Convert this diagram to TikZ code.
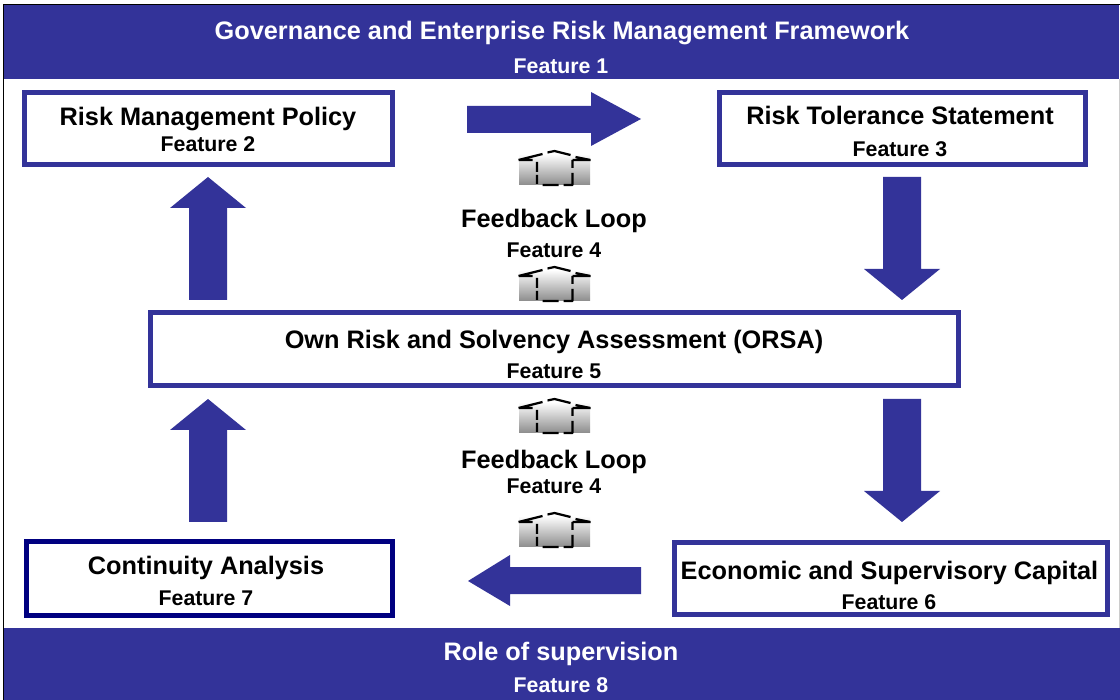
\documentclass[tikz,border=0pt]{standalone}
\usepackage{fontspec}
\setmainfont{Liberation Sans}
\definecolor{navy}{RGB}{51,51,153}
\definecolor{dnavy}{RGB}{0,0,128}
\tikzset{
  px/.style={x=1pt,y=-1pt},
  band/.style={fill=navy,draw=none},
  framebox/.style={draw=navy,line width=5pt,fill=white},
  darkbox/.style={draw=dnavy,line width=5pt,fill=white},
  blockarrow/.style={fill=navy,draw=none},
  title/.style={font=\bfseries\fontsize{25.3}{25.3}\selectfont,inner sep=0pt,anchor=center,text=black},
  sub/.style={font=\bfseries\fontsize{21.3}{21.3}\selectfont,inner sep=0pt,anchor=center,text=black},
  bandtitle/.style={title,text=white},
  bandsub/.style={sub,text=white},
  dashline/.style={draw=black,line width=2.2pt,line join=round},
}
\newcommand{\upicon}[2]{%
  \begin{scope}[shift={(#1,#2)}]
  \fill[top color=white,bottom color=black!45] (-35.5,-6) rectangle (35.5,25);
  \draw[dashline] (-36,0) -- (-12,-6) (-36,0) -- (-22,0)
    (-7,-7.5) -- (0,-9) -- (16,-5)
    (21,-3) -- (36,0) (18,0) -- (36,0)
    (-17.5,2) -- (-17.5,12) (-17.5,15) -- (-17.5,24)
    (-12,25) -- (4,25) (9,25) -- (18,25) -- (18,13) (18,8) -- (18,0);
  \end{scope}
}
\newcommand{\arrowup}[3]{% cx, tip y, base y
  \fill[blockarrow] (#1,#2) -- (#1+38,#2+31) -- (#1+19,#2+31) -- (#1+19,#3) -- (#1-19,#3) -- (#1-19,#2+31) -- (#1-38,#2+31) -- cycle;
}
\newcommand{\arrowdown}[3]{% cx, base y, tip y
  \fill[blockarrow] (#1,#3) -- (#1+38,#3-31) -- (#1+19,#3-31) -- (#1+19,#2) -- (#1-19,#2) -- (#1-19,#3-31) -- (#1-38,#3-31) -- cycle;
}
\begin{document}
\begin{tikzpicture}[px]
\useasboundingbox (0,0) rectangle (1120,700);
\fill[white] (0,0) rectangle (1120,700);
\fill[band] (3,4) rectangle (1119,79);
\fill[band] (3,628) rectangle (1120,700);
\draw[black,line width=1.5pt] (3.5,700) -- (3.5,4.5) -- (1120,4.5);
\draw[black!20,line width=1pt] (1119.5,79) -- (1119.5,628);
\node[bandtitle] (t1) at (562,33) {Governance and Enterprise Risk Management Framework};
\node[bandsub] (f1) at (561,66) {Feature 1};
\node[bandtitle] (t8) at (561,654) {Role of supervision};
\node[bandsub] (f8) at (561,685) {Feature 8};
\draw[framebox] (24.8,92.8) rectangle (392,165);
\node[title] (t2) at (208,119) {Risk Management Policy};
\node[sub] (f2) at (208,144) {Feature 2};
\draw[framebox] (719,92.8) rectangle (1085.5,165);
\node[title] (t3) at (900,115) {Risk Tolerance Statement};
\node[sub] (f3) at (900,149) {Feature 3};
\draw[framebox] (150,313) rectangle (958,386);
\node[title] (t5) at (554,342) {Own Risk and Solvency Assessment (ORSA)};
\node[sub] (f5) at (554,371) {Feature 5};
\draw[darkbox] (26,541.5) rectangle (392.5,615);
\node[title] (t7) at (206,568) {Continuity Analysis};
\node[sub] (f7) at (206,598) {Feature 7};
\draw[framebox] (674.5,543) rectangle (1107.5,614.5);
\node[title] (t6) at (889.5,573) {Economic and Supervisory Capital};
\node[sub] (f6) at (889,602) {Feature 6};
\node[title] (fba) at (554,221) {Feedback Loop};
\node[sub] (f4a) at (554,250) {Feature 4};
\node[title] (fbb) at (554,462) {Feedback Loop};
\node[sub] (f4b) at (554,486) {Feature 4};
\fill[blockarrow] (641,119) -- (591,92) -- (591,106) -- (467,106) -- (467,133) -- (591,133) -- (591,146) -- cycle;
\fill[blockarrow] (468,581) -- (510,555) -- (510,567) -- (641,567) -- (641,594) -- (510,594) -- (510,606) -- cycle;
\arrowup{208}{177}{300}
\arrowup{208}{399}{522}
\arrowdown{902}{177}{300}
\arrowdown{902}{399}{522}
\upicon{554.5}{160}
\upicon{554.5}{276}
\upicon{554.5}{408}
\upicon{554.5}{522}
\end{tikzpicture}
\end{document}
